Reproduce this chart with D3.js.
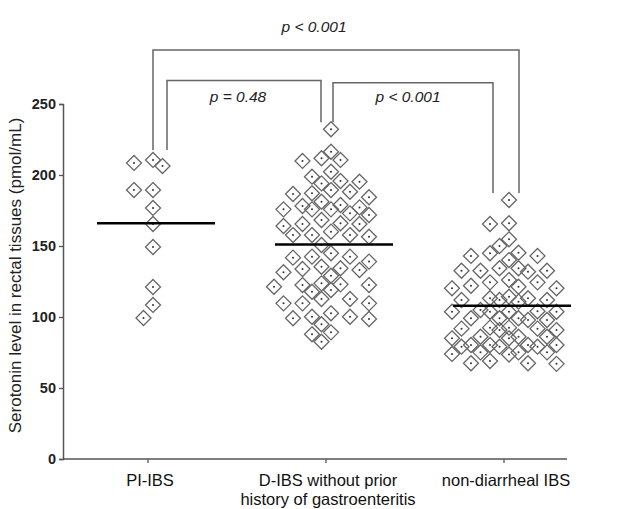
<!DOCTYPE html>
<html><head><meta charset="utf-8">
<script src="https://cdn.jsdelivr.net/npm/d3@7"></script>
<style>body{margin:0;background:#fff}svg{display:block}</style>
</head><body><svg id="c" width="617" height="509"></svg>
<script>
// ---- data ----
const categories = ["PI-IBS", "D-IBS without prior\nhistory of gastroenteritis", "non-diarrheal IBS"];
const piIbs = [210.6, 208.5, 206.3, 189.4, 189.4, 176.8, 165.5, 149.3, 121.1, 108.5, 99.3];
const dIbs = [232.2, 216.4, 211.8, 210.6, 209.9, 202.3, 198.8, 195.8, 195.3, 194.1, 189.4, 188.2, 187.1, 186.6,
  184.3, 181.2, 178.9, 178.2, 177.2, 175.8, 175.8, 175.8, 173.0, 171.8, 168.3, 166.0, 165.5, 165.5, 164.1,
  160.1, 157.7, 157.7, 157.7, 156.5, 150.7, 144.9, 142.5, 142.5, 141.8, 139.0, 135.4, 134.3, 133.8, 133.1,
  131.5, 129.1, 123.7, 123.0, 122.5, 122.5, 121.3, 119.0, 117.8, 112.7, 112.7, 109.6, 109.6, 109.6, 102.6,
  100.2, 100.2, 99.1, 98.6, 94.9, 89.2, 87.8, 82.6];
const nonDiarrheal = [182.4, 166.0, 165.5, 154.7, 150.0, 145.3, 144.9, 143.0, 143.0, 140.1, 134.3, 134.3,
  132.6, 132.6, 132.6, 131.9, 126.0, 124.4, 124.4, 122.0, 121.3, 120.2, 120.2, 114.3, 113.2, 113.2, 112.0,
  112.0, 112.0, 110.8, 104.9, 104.0, 103.7, 103.7, 103.7, 103.7, 99.1, 99.1, 99.1, 97.9, 97.9, 92.5, 92.5,
  91.8, 91.8, 90.8, 90.8, 86.1, 86.1, 86.1, 85.0, 85.0, 80.3, 80.3, 80.3, 80.3, 79.1, 79.1, 79.1, 75.1,
  75.1, 75.1, 74.0, 73.6, 69.0, 67.4, 67.4, 67.0];
const groups = [piIbs, dIbs, nonDiarrheal];
const means = [166, 151, 108];
const yTicks = [0, 50, 100, 150, 200, 250];
const yLabel = "Serotonin level in rectal tissues (pmol/mL)";
const comparisons = [
  {from: 0, to: 2, label: "p < 0.001", level: 288},
  {from: 0, to: 1, label: "p = 0.48", level: 266.5},
  {from: 1, to: 2, label: "p < 0.001", level: 265}
];

// ---- layout ----
const FONT = "Liberation Sans, Arial, sans-serif";
const svg = d3.select("#c");
const y = d3.scaleLinear().domain([0, 250]).range([459, 104]);
const x = d3.scalePoint().domain(categories).range([153, 509]);
const axisLeftX = 63, axisRight = 567;
const axisColor = "#555";

// y axis
const ya = svg.append("g").attr("transform", `translate(${axisLeftX},0)`)
  .call(d3.axisLeft(y).tickValues(yTicks).tickSize(4).tickPadding(3));
ya.select(".domain").attr("stroke", axisColor).attr("stroke-width", 1.5);
ya.selectAll(".tick line").attr("stroke", axisColor).attr("stroke-width", 1.3);
ya.selectAll(".tick text").attr("font-family", FONT)
  .attr("font-size", 14.5).attr("font-weight", "bold").attr("fill", "#222");

// x axis
const xg = svg.append("g").attr("transform", `translate(0,${y(0)})`);
xg.append("line").attr("x1", axisLeftX).attr("x2", axisRight).attr("stroke", axisColor).attr("stroke-width", 1.5);
xg.selectAll(".xt").data(categories).join("line").attr("class", "xt")
  .attr("x1", d => x(d) - 5).attr("x2", d => x(d) - 5).attr("y1", 0).attr("y2", 4)
  .attr("stroke", axisColor).attr("stroke-width", 1.3);
xg.selectAll(".xl").data(categories).join("text").attr("class", "xl")
  .attr("text-anchor", "middle").attr("font-family", FONT)
  .attr("font-size", 16.5).attr("fill", "#111")
  .each(function(d) {
    const lines = d.split("\n");
    d3.select(this).selectAll("tspan").data(lines).join("tspan")
      .attr("x", x(d) - 3).attr("y", (l, i) => 27 + i * 18.5).text(l => l);
  });

// y label
svg.append("text").attr("transform", `translate(21,${(y(0) + y(250)) / 2 - 6}) rotate(-90)`)
  .attr("text-anchor", "middle").attr("font-family", FONT)
  .attr("font-size", 17).attr("fill", "#222").text(yLabel);

// swarm layout
function swarm(values, cx, h, r, maxL, maxR) {
  const sorted = values.slice().sort((a, b) => b - a);
  const placed = [];
  const order = [0];
  for (let k = 1; k <= Math.max(maxL, maxR); k++) {
    if (k <= maxL) order.push(-k);
    if (k <= maxR) order.push(k);
  }
  sorted.forEach(v => {
    const py = y(v);
    let best = cx, bestD = -1;
    for (const k of order) {
      const px = cx + k * h;
      let minD = Infinity;
      for (const q of placed) {
        const d = Math.abs(q.x - px) + Math.abs(q.y - py);
        if (d < minD) minD = d;
      }
      if (minD >= 2 * r) { best = px; bestD = minD; break; }
      if (minD > bestD + 1) { bestD = minD; best = px; }
    }
    placed.push({v, x: best, y: py});
  });
  return placed;
}

const R = 7.5;
const spread = [[2, 2], [6, 4], [6, 5]];
groups.forEach((vals, gi) => {
  const pts = swarm(vals, x(categories[gi]), 9.5, R + 0.25, spread[gi][0], spread[gi][1]);
  const g = svg.append("g");
  g.selectAll("path").data(pts).join("path")
    .attr("d", d => `M${d.x},${d.y - R}L${d.x + R},${d.y}L${d.x},${d.y + R}L${d.x - R},${d.y}Z`)
    .attr("fill", "none").attr("stroke", "#666").attr("stroke-width", 1.3);
  g.selectAll("circle").data(pts).join("circle")
    .attr("cx", d => d.x).attr("cy", d => d.y).attr("r", 1).attr("fill", "#333");
});

// mean lines
svg.selectAll(".mean").data(means).join("line").attr("class", "mean")
  .attr("x1", (d, i) => x(categories[i]) - 56).attr("x2", (d, i) => x(categories[i]) + 62)
  .attr("y1", d => y(d)).attr("y2", d => y(d))
  .attr("stroke", "#000").attr("stroke-width", 2.5);

// brackets
const legOffset = [[0, 10], [14, -10], [2, -16]];
comparisons.forEach((c, i) => {
  const x1 = x(categories[c.from]) + legOffset[i][0];
  const x2 = x(categories[c.to]) + legOffset[i][1];
  const top = y(c.level);
  const b1 = y(d3.max(groups[c.from])) - (c.from === 0 ? 10 : 7);
  const b2 = y(d3.max(groups[c.to])) - 7;
  svg.append("path").attr("d", `M${x1},${b1}V${top}H${x2}V${b2}`)
    .attr("fill", "none").attr("stroke", "#666").attr("stroke-width", 1.5);
  const tx = i === 0 ? 314 : i === 1 ? 238 : 408;
  svg.append("text").attr("x", tx).attr("y", i === 0 ? 32 : 102)
    .attr("text-anchor", "middle").attr("font-family", FONT)
    .attr("font-style", "italic").attr("font-size", 15.5).attr("fill", "#222").text(c.label);
});
</script>
</body></html>
